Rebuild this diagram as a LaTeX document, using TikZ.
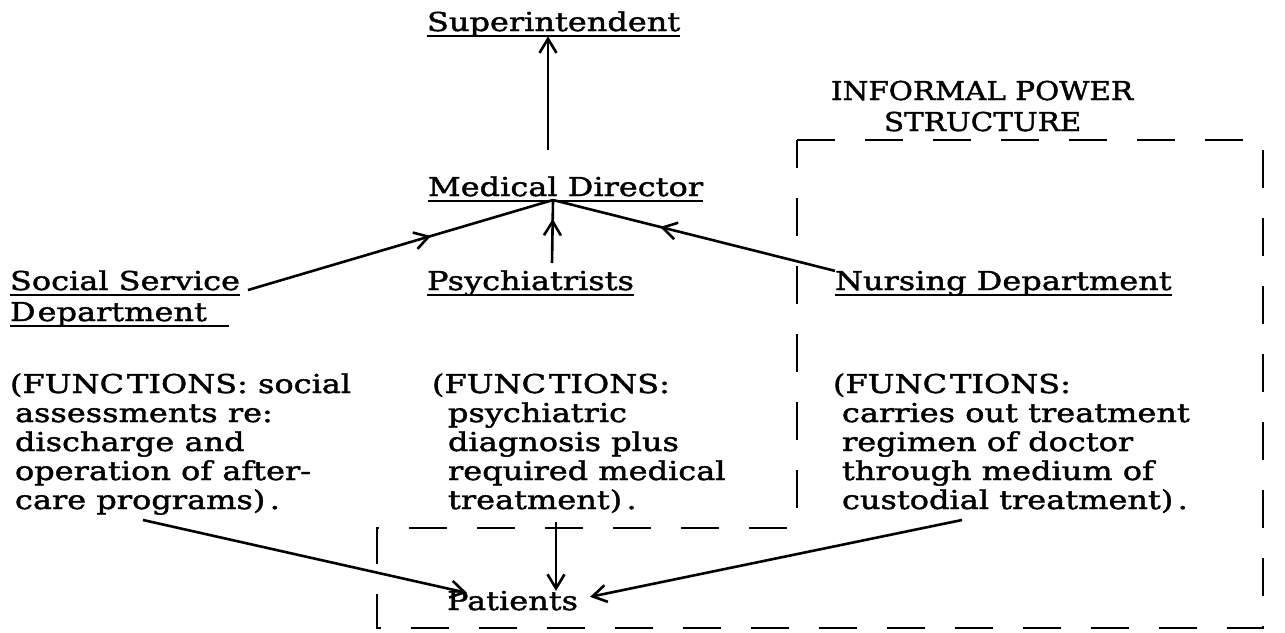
\documentclass[tikz,border=0pt]{standalone}
\usepackage{fontspec}
\setmainfont[FakeStretch=1.23,FakeBold=1.6]{DejaVu Serif}
\usetikzlibrary{arrows.meta,decorations.markings,calc}
\newcommand\mainfnt{\fontsize{26pt}{29pt}\selectfont}
\tikzset{
  txt/.style={inner sep=0pt, outer sep=0pt, anchor=base west, font=\mainfnt},
  uline/.style={line width=1.8pt},
  conn/.style={line width=2.6pt},
  barb/.style={-{Straight Barb[length=14pt,width=17pt,line width=2.6pt]}},
  midbarb/.style={postaction={decorate}, decoration={markings,
     mark=at position #1 with {\arrow{Straight Barb[length=14pt,width=17pt,line width=2.6pt]}}}},
  pbox/.style={line width=2.2pt, dash pattern=on 38pt off 30pt},
}
\newcommand\ulnode[2][0pt]{\draw[uline] ([yshift=-5pt]#2.base west) -- ([yshift=-5pt,xshift=#1]#2.base east);}
\begin{document}
\begin{tikzpicture}[x=1pt,y=-1pt]
\useasboundingbox (0,0) rectangle (1285,632);
% dashed outline of the informal power structure
\draw[pbox] (797,140) -- (1263,140) -- (1263,628) -- (377,628) -- (377,528) -- (797,528) -- cycle;
% headings
\node[txt] (sup) at (427,31) {Superintendent};
\node[txt] (md) at (428,196) {Medical Director};
\node[txt] (ss) at (10,290) {Social Service};
\node[txt] (ssd) at (10,321) {D\kern2pt epartment};
\node[txt] (ps) at (427,290) {Psychiatrists};
\node[txt] (nd) at (835,290) {Nursing Department};
\node[txt] (ipa) at (831,100) {\scalebox{0.92}[1]{INFORMAL POWER}};
\node[txt] (ipb) at (884,131) {\scalebox{0.92}[1]{STRUCTURE}};
\node[txt] (pat) at (447,610) {Patients};
\ulnode{sup}
\ulnode{md}
\ulnode{ss}
\ulnode[22pt]{ssd}
\ulnode{ps}
\ulnode{nd}
% functions
\node[txt] (sf1) at (10,393) {(FUNC\kern3pt TIONS:\ social};
\node[txt] (sf2) at (15,422) {assessments re:};
\node[txt] (sf3) at (15,451) {discharge and};
\node[txt] (sf4) at (15,480) {operation of after-};
\node[txt] (sf5) at (15,509) {care programs)\,.};
\node[txt] (pf1) at (432,393) {(FUNC\kern3pt TIONS:};
\node[txt] (pf2) at (448,422) {psychiatric};
\node[txt] (pf3) at (448,451) {diagnosis plus};
\node[txt] (pf4) at (448,480) {required medical};
\node[txt] (pf5) at (448,509) {treatment)\,.};
\node[txt] (nf1) at (833,393) {(FUNC\kern3pt TIONS:};
\node[txt] (nf2) at (842,422) {carries out treatment};
\node[txt] (nf3) at (842,451) {regimen of doctor};
\node[txt] (nf4) at (842,480) {through medium of};
\node[txt] (nf5) at (842,509) {custodial treatment)\,.};
% connector points
\coordinate (apex) at (553,200);
\coordinate (mdtop) at (548,150);
\coordinate (pstop) at (552,263);
\coordinate (ssend) at ([xshift=8pt]ss.base east);
\coordinate (pgm) at (143,520);
\coordinate (pfb) at (556,522);
\coordinate (cust) at (962,520);
% connectors
\draw[conn,barb] (mdtop) -- (mdtop |- sup.south);
\draw[conn,midbarb=0.6] (ssend) -- (apex);
\draw[conn,midbarb=0.62] (nd.north west) -- (apex);
\draw[conn,midbarb=0.7] (pstop) -- (apex);
\draw[conn,barb] (pgm) -- ([xshift=20pt,yshift=-2pt]pat.north west);
\draw[conn,barb] (pfb) -- (pfb |- pat.north);
\draw[conn,barb] (cust) -- ([xshift=12pt,yshift=-6pt]pat.north east);
\end{tikzpicture}
\end{document}
